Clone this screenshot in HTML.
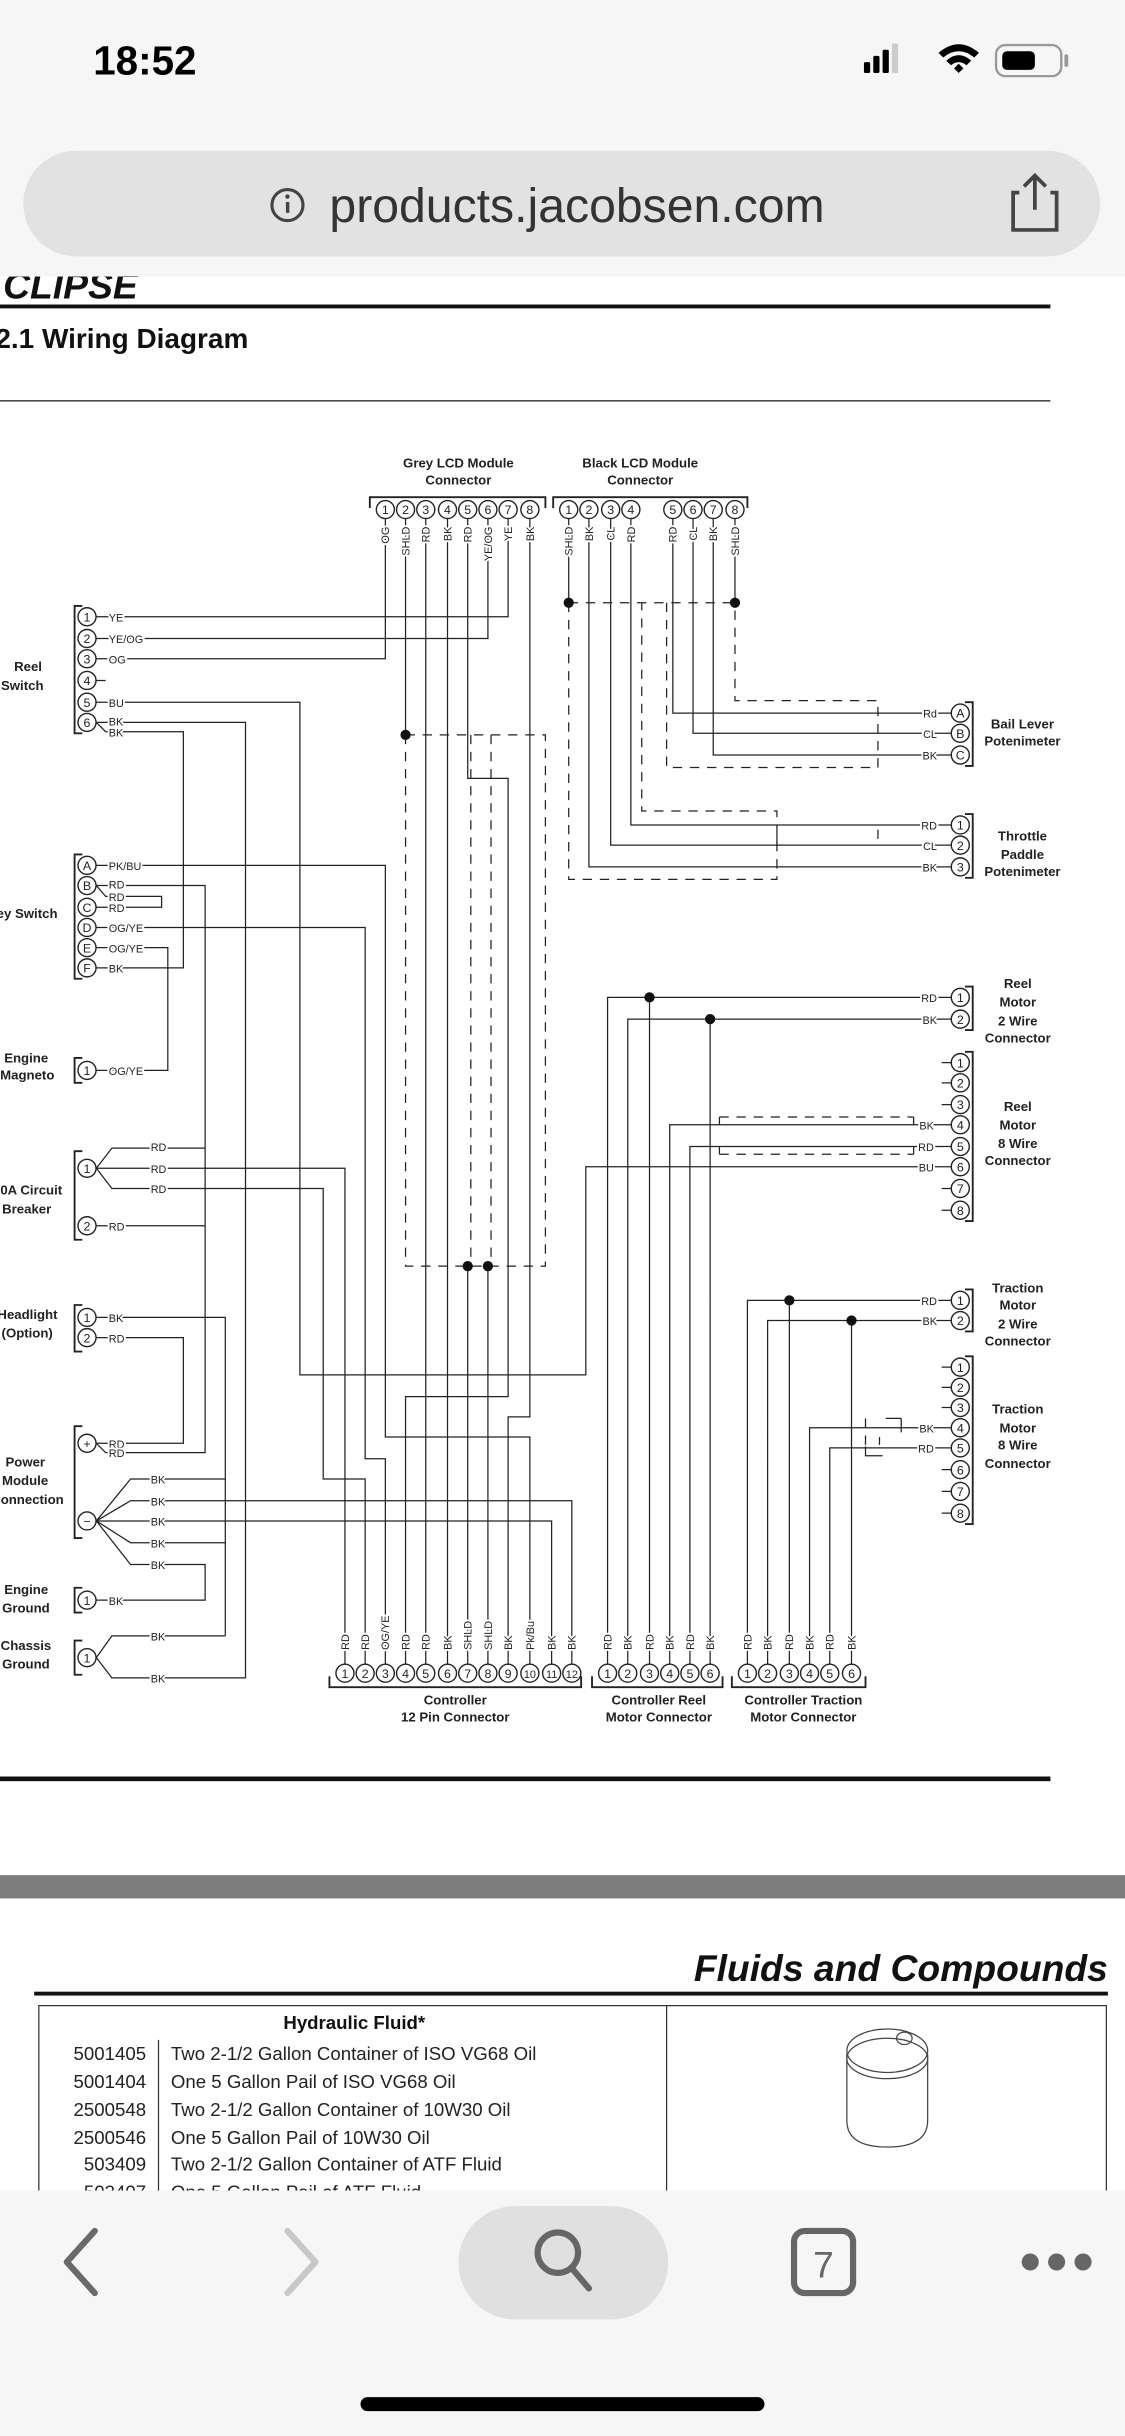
<!DOCTYPE html>
<html><head><meta charset="utf-8"><style>
html,body{margin:0;padding:0;background:#fff;width:1125px;height:2436px;overflow:hidden}
svg{display:block}
.w{stroke:#222;stroke-width:0.8;fill:none}
.d{stroke:#222;stroke-width:0.8;fill:none;stroke-dasharray:6 5}
.l{font:7px "Liberation Sans Narrow","Liberation Sans",sans-serif;fill:#222;paint-order:stroke;stroke:#fff;stroke-width:2.5px}
.p{fill:#fff;stroke:#222;stroke-width:0.9}
.n{font:8px "Liberation Sans Narrow","Liberation Sans",sans-serif;text-anchor:middle;fill:#222}
.t{font:bold 8.5px "Liberation Sans Narrow","Liberation Sans",sans-serif;fill:#222;text-anchor:middle}
.e{font:bold 8.5px "Liberation Sans Narrow","Liberation Sans",sans-serif;fill:#222;text-anchor:end}
.r{font:12px "Liberation Sans Narrow","Liberation Sans",sans-serif;fill:#222}
</style></head><body>
<svg width="1125" height="2436" viewBox="0 0 724 1568" preserveAspectRatio="none" xmlns="http://www.w3.org/2000/svg">
<rect width="724" height="1568" fill="#fff"/>
<!-- doc header -->
<text x="2" y="192" style="font:italic bold 24px 'Liberation Sans Narrow','Liberation Sans',sans-serif" fill="#111">CLIPSE</text>
<rect x="0" y="0" width="724" height="178" fill="#f6f6f6"/>
<text x="60" y="48" style="font:bold 26px 'Liberation Sans Narrow','Liberation Sans',sans-serif" fill="#000">18:52</text>
<rect x="556" y="40" width="4" height="7" rx="1" fill="#000"/><rect x="562" y="36" width="4" height="11" rx="1" fill="#000"/><rect x="568" y="32" width="4" height="15" rx="1" fill="#000"/><rect x="574" y="28" width="4" height="19" rx="1" fill="#ccc"/>
<path d="M604 34 Q617 23 630 34 L627 37 Q617 29 607 37Z M609 39 Q617 32 625 39 L622 42 Q617 38 612 42Z M614 44 L617 41 L620 44 L617 47Z" fill="#000"/>
<rect x="641" y="29" width="42" height="20" rx="6" fill="none" stroke="#999" stroke-width="1.5"/><rect x="645" y="33" width="21" height="12" rx="3" fill="#000"/><rect x="685" y="35" width="2.5" height="8" rx="1" fill="#999"/>
<rect x="15" y="97" width="693" height="68" rx="34" fill="#e2e2e2"/>
<circle cx="185" cy="132" r="10" fill="none" stroke="#444" stroke-width="2"/><rect x="184" y="130" width="2.2" height="7" fill="#444"/><circle cx="185" cy="126.5" r="1.4" fill="#444"/>
<text x="212" y="143" style="font:31px 'Liberation Sans Narrow','Liberation Sans',sans-serif" fill="#333">products.jacobsen.com</text>
<path d="M656 124 H652 V148 H680 V124 H676 M666 135 V114 M659 120 L666 113 L673 120" fill="none" stroke="#444" stroke-width="2.4"/>
<rect x="0" y="196" width="676" height="2.5" fill="#111"/>
<text x="-3" y="224" style="font:bold 18px 'Liberation Sans Narrow','Liberation Sans',sans-serif" fill="#111">2.1 Wiring Diagram</text>
<rect x="0" y="257.5" width="676" height="1" fill="#444"/>

<!-- diagram headers -->
<text class="t" x="295" y="301">Grey LCD Module</text><text class="t" x="295" y="312">Connector</text>
<text class="t" x="412" y="301">Black LCD Module</text><text class="t" x="412" y="312">Connector</text>
<path class="w" d="M238 327 V320 H351 V327 M356 327 V320 H481 V327" style="stroke-width:1.2"/>
<text class="t" x="293" y="1097">Controller</text><text class="t" x="293" y="1108">12 Pin Connector</text>
<text class="t" x="424" y="1097">Controller Reel</text><text class="t" x="424" y="1108">Motor Connector</text>
<text class="t" x="517" y="1097">Controller Traction</text><text class="t" x="517" y="1108">Motor Connector</text>
<path class="w" d="M212 1079 V1086 H374 V1079 M381 1079 V1086 H465 V1079 M471 1079 V1086 H557 V1079" style="stroke-width:1.2"/>

<!-- left labels -->
<text class="e" x="27" y="432">Reel</text><text class="e" x="28" y="444">Switch</text>
<text class="e" x="37" y="591">Key Switch</text>
<text class="e" x="31" y="684">Engine</text><text class="e" x="35" y="695">Magneto</text>
<text class="e" x="40" y="769">20A Circuit</text><text class="e" x="33" y="781">Breaker</text>
<text class="e" x="37" y="849">Headlight</text><text class="e" x="34" y="861">(Option)</text>
<text class="e" x="29" y="944">Power</text><text class="e" x="31" y="956">Module</text><text class="e" x="41" y="968">Connection</text>
<text class="e" x="31" y="1026">Engine</text><text class="e" x="32" y="1038">Ground</text>
<text class="e" x="33" y="1062">Chassis</text><text class="e" x="32" y="1074">Ground</text>
<!-- right labels -->
<text class="t" x="658" y="469">Bail Lever</text><text class="t" x="658" y="480">Potenimeter</text>
<text class="t" x="658" y="541">Throttle</text><text class="t" x="658" y="553">Paddle</text><text class="t" x="658" y="564">Potenimeter</text>
<text class="t" x="655" y="636">Reel</text><text class="t" x="655" y="648">Motor</text><text class="t" x="655" y="660">2 Wire</text><text class="t" x="655" y="671">Connector</text>
<text class="t" x="655" y="715">Reel</text><text class="t" x="655" y="727">Motor</text><text class="t" x="655" y="739">8 Wire</text><text class="t" x="655" y="750">Connector</text>
<text class="t" x="655" y="832">Traction</text><text class="t" x="655" y="843">Motor</text><text class="t" x="655" y="855">2 Wire</text><text class="t" x="655" y="866">Connector</text>
<text class="t" x="655" y="910">Traction</text><text class="t" x="655" y="922">Motor</text><text class="t" x="655" y="933">8 Wire</text><text class="t" x="655" y="945">Connector</text>

<!-- brackets -->
<path class="w" style="stroke-width:1.2" d="M53 390 H48 V472 H53 M53 550 H48 V630 H53 M53 681 H48 V697 H53 M53 741 H48 V798 H53 M53 840 H48 V870 H53 M53 918 H48 V990 H53 M53 1022 H48 V1038 H53 M53 1056 H48 V1078 H53
M621 452 H626 V493 H621 M621 524 H626 V565 H621 M621 635 H626 V663 H621 M621 677 H626 V786 H621 M621 830 H626 V857 H621 M621 873 H626 V981 H621"/>

<!-- wires -->
<path class="w" d="
M62 397 H327 V334 M62 411 H314 V334 M62 424 H248 V334 M62 438 H68
M62 452 H193 V885 H377 V751 H612
M62 465 H158 V1080 H72 L62 1067 L72 1053 H145
M62 465 L68 471 H118 V623 H62
M62 557 H248 V925 H341 V1071
M62 570 H132 V935 H68 L62 929 H118 V861 H62
M62 570 L68 577 H104 V584 H62
M62 597 H235 V939 H248 V1071
M62 610 H108 V689 H62
M62 752 L72 739 H132 M62 752 H222 V1071 M62 752 L72 765 H208 V952 H235 V1071
M62 789 H132
M62 848 H145 V1053
M62 979 L84 952 H145 M62 979 L84 966 H368 V1071 M62 979 H355 V1071 M62 979 L84 993 H145 M62 979 L84 1007 H132 V1030 H62
M261 334 V473 M274 334 V1071 M288 334 V1071
M301 334 V501 H327 V899 H261 V1071
M341 334 V912 H327 V1071
M301 815 V1071 M314 815 V1071
M366 334 V388 M473 334 V388
M379 334 V558 H612 M393 334 V544 H612 M406 334 V531 H612
M433 334 V459 H612 M446 334 V472 H612 M459 334 V486 H612
M391 1071 V642 H612 M418 642 V1071 M404 1071 V656 H612 M457 656 V1071
M431 1071 V724 H612 M444 1071 V738 H612
M481 1071 V837 H612 M508 837 V1071 M494 1071 V850 H612 M548 850 V1071
M521 1071 V919 H612 M534 1071 V932 H612
M606 684 H612 M606 697 H612 M606 711 H612 M606 765 H612 M606 779 H612
M606 880 H612 M606 893 H612 M606 906 H612 M606 946 H612 M606 960 H612 M606 974 H612
M463 719 V724 M463 738 V743 M588 719 V724 M588 738 V743 M500 537 V543 M565 534 V540
M580 913 V922 M570 913 H580 M557 931 V937 H568 M566 925 V930
"/>
<path class="d" d="M261 473 H351 V815 H261 V473 M303 473 V815 M316 473 V815
M366 388 H473 M366 388 V566 H500 V522 H413 V388 M429 388 V494 H565 V451 H473 V388
M463 719 H588 M463 743 H588 M557 913 V931"/>
<g fill="#111">
<circle cx="261" cy="473" r="3.3"/><circle cx="301" cy="815" r="3.3"/><circle cx="314" cy="815" r="3.3"/>
<circle cx="366" cy="388" r="3.3"/><circle cx="473" cy="388" r="3.3"/>
<circle cx="418" cy="642" r="3.3"/><circle cx="457" cy="656" r="3.3"/><circle cx="508" cy="837" r="3.3"/><circle cx="548" cy="850" r="3.3"/>
</g>

<!-- wire labels left -->
<g class="l">
<text x="70" y="400">YE</text><text x="70" y="414">YE/OG</text><text x="70" y="427">OG</text><text x="70" y="455">BU</text><text x="70" y="467">BK</text><text x="70" y="474">BK</text>
<text x="70" y="560">PK/BU</text><text x="70" y="572">RD</text><text x="70" y="580">RD</text><text x="70" y="587">RD</text><text x="70" y="600">OG/YE</text><text x="70" y="613">OG/YE</text><text x="70" y="626">BK</text>
<text x="70" y="692">OG/YE</text>
<text x="97" y="741">RD</text><text x="97" y="755">RD</text><text x="97" y="768">RD</text><text x="70" y="792">RD</text>
<text x="70" y="851">BK</text><text x="70" y="864">RD</text>
<text x="70" y="932">RD</text><text x="70" y="938">RD</text>
<text x="97" y="955">BK</text><text x="97" y="969">BK</text><text x="97" y="982">BK</text><text x="97" y="996">BK</text><text x="97" y="1010">BK</text>
<text x="70" y="1033">BK</text><text x="97" y="1056">BK</text><text x="97" y="1083">BK</text>
</g>
<!-- wire labels right -->
<g class="l" text-anchor="end">
<text x="603" y="462">Rd</text><text x="603" y="475">CL</text><text x="603" y="489">BK</text>
<text x="603" y="534">RD</text><text x="603" y="547">CL</text><text x="603" y="561">BK</text>
<text x="603" y="645">RD</text><text x="603" y="659">BK</text>
<text x="601" y="727">BK</text><text x="601" y="741">RD</text><text x="601" y="754">BU</text>
<text x="603" y="840">RD</text><text x="603" y="853">BK</text>
<text x="601" y="922">BK</text><text x="601" y="935">RD</text>
</g>
<!-- vertical labels top -->
<g class="l" text-anchor="end">
<text transform="translate(250.5,339) rotate(-90)">OG</text><text transform="translate(263.5,339) rotate(-90)">SHLD</text><text transform="translate(276.5,339) rotate(-90)">RD</text><text transform="translate(290.5,339) rotate(-90)">BK</text><text transform="translate(303.5,339) rotate(-90)">RD</text><text transform="translate(316.5,339) rotate(-90)">YE/OG</text><text transform="translate(329.5,339) rotate(-90)">YE</text><text transform="translate(343.5,339) rotate(-90)">BK</text>
<text transform="translate(368.5,339) rotate(-90)">SHLD</text><text transform="translate(381.5,339) rotate(-90)">BK</text><text transform="translate(395.5,339) rotate(-90)">CL</text><text transform="translate(408.5,339) rotate(-90)">RD</text><text transform="translate(435.5,339) rotate(-90)">RD</text><text transform="translate(448.5,339) rotate(-90)">CL</text><text transform="translate(461.5,339) rotate(-90)">BK</text><text transform="translate(475.5,339) rotate(-90)">SHLD</text>
</g>
<!-- vertical labels bottom -->
<g class="l">
<text transform="translate(224.5,1062) rotate(-90)">RD</text><text transform="translate(237.5,1062) rotate(-90)">RD</text><text transform="translate(250.5,1062) rotate(-90)">OG/YE</text><text transform="translate(263.5,1062) rotate(-90)">RD</text><text transform="translate(276.5,1062) rotate(-90)">RD</text><text transform="translate(290.5,1062) rotate(-90)">BK</text><text transform="translate(303.5,1062) rotate(-90)">SHLD</text><text transform="translate(316.5,1062) rotate(-90)">SHLD</text><text transform="translate(329.5,1062) rotate(-90)">BK</text><text transform="translate(343.5,1062) rotate(-90)">Pk/Bu</text><text transform="translate(357.5,1062) rotate(-90)">BK</text><text transform="translate(370.5,1062) rotate(-90)">BK</text>
<text transform="translate(393.5,1062) rotate(-90)">RD</text><text transform="translate(406.5,1062) rotate(-90)">BK</text><text transform="translate(420.5,1062) rotate(-90)">RD</text><text transform="translate(433.5,1062) rotate(-90)">BK</text><text transform="translate(446.5,1062) rotate(-90)">RD</text><text transform="translate(459.5,1062) rotate(-90)">BK</text>
<text transform="translate(483.5,1062) rotate(-90)">RD</text><text transform="translate(496.5,1062) rotate(-90)">BK</text><text transform="translate(510.5,1062) rotate(-90)">RD</text><text transform="translate(523.5,1062) rotate(-90)">BK</text><text transform="translate(536.5,1062) rotate(-90)">RD</text><text transform="translate(550.5,1062) rotate(-90)">BK</text>
</g>

<!-- pins -->
<g>
<!-- top -->
<circle class="p" cx="248" cy="328" r="5.8"/><text class="n" x="248" y="331">1</text>
<circle class="p" cx="261" cy="328" r="5.8"/><text class="n" x="261" y="331">2</text>
<circle class="p" cx="274" cy="328" r="5.8"/><text class="n" x="274" y="331">3</text>
<circle class="p" cx="288" cy="328" r="5.8"/><text class="n" x="288" y="331">4</text>
<circle class="p" cx="301" cy="328" r="5.8"/><text class="n" x="301" y="331">5</text>
<circle class="p" cx="314" cy="328" r="5.8"/><text class="n" x="314" y="331">6</text>
<circle class="p" cx="327" cy="328" r="5.8"/><text class="n" x="327" y="331">7</text>
<circle class="p" cx="341" cy="328" r="5.8"/><text class="n" x="341" y="331">8</text>
<circle class="p" cx="366" cy="328" r="5.8"/><text class="n" x="366" y="331">1</text>
<circle class="p" cx="379" cy="328" r="5.8"/><text class="n" x="379" y="331">2</text>
<circle class="p" cx="393" cy="328" r="5.8"/><text class="n" x="393" y="331">3</text>
<circle class="p" cx="406" cy="328" r="5.8"/><text class="n" x="406" y="331">4</text>
<circle class="p" cx="433" cy="328" r="5.8"/><text class="n" x="433" y="331">5</text>
<circle class="p" cx="446" cy="328" r="5.8"/><text class="n" x="446" y="331">6</text>
<circle class="p" cx="459" cy="328" r="5.8"/><text class="n" x="459" y="331">7</text>
<circle class="p" cx="473" cy="328" r="5.8"/><text class="n" x="473" y="331">8</text>
<!-- bottom -->
<circle class="p" cx="222" cy="1077" r="5.8"/><text class="n" x="222" y="1080">1</text>
<circle class="p" cx="235" cy="1077" r="5.8"/><text class="n" x="235" y="1080">2</text>
<circle class="p" cx="248" cy="1077" r="5.8"/><text class="n" x="248" y="1080">3</text>
<circle class="p" cx="261" cy="1077" r="5.8"/><text class="n" x="261" y="1080">4</text>
<circle class="p" cx="274" cy="1077" r="5.8"/><text class="n" x="274" y="1080">5</text>
<circle class="p" cx="288" cy="1077" r="5.8"/><text class="n" x="288" y="1080">6</text>
<circle class="p" cx="301" cy="1077" r="5.8"/><text class="n" x="301" y="1080">7</text>
<circle class="p" cx="314" cy="1077" r="5.8"/><text class="n" x="314" y="1080">8</text>
<circle class="p" cx="327" cy="1077" r="5.8"/><text class="n" x="327" y="1080">9</text>
<circle class="p" cx="341" cy="1077" r="5.8"/><text class="n" x="341" y="1080" style="font-size:7px">10</text>
<circle class="p" cx="355" cy="1077" r="5.8"/><text class="n" x="355" y="1080" style="font-size:7px">11</text>
<circle class="p" cx="368" cy="1077" r="5.8"/><text class="n" x="368" y="1080" style="font-size:7px">12</text>
<circle class="p" cx="391" cy="1077" r="5.8"/><text class="n" x="391" y="1080">1</text>
<circle class="p" cx="404" cy="1077" r="5.8"/><text class="n" x="404" y="1080">2</text>
<circle class="p" cx="418" cy="1077" r="5.8"/><text class="n" x="418" y="1080">3</text>
<circle class="p" cx="431" cy="1077" r="5.8"/><text class="n" x="431" y="1080">4</text>
<circle class="p" cx="444" cy="1077" r="5.8"/><text class="n" x="444" y="1080">5</text>
<circle class="p" cx="457" cy="1077" r="5.8"/><text class="n" x="457" y="1080">6</text>
<circle class="p" cx="481" cy="1077" r="5.8"/><text class="n" x="481" y="1080">1</text>
<circle class="p" cx="494" cy="1077" r="5.8"/><text class="n" x="494" y="1080">2</text>
<circle class="p" cx="508" cy="1077" r="5.8"/><text class="n" x="508" y="1080">3</text>
<circle class="p" cx="521" cy="1077" r="5.8"/><text class="n" x="521" y="1080">4</text>
<circle class="p" cx="534" cy="1077" r="5.8"/><text class="n" x="534" y="1080">5</text>
<circle class="p" cx="548" cy="1077" r="5.8"/><text class="n" x="548" y="1080">6</text>
<!-- left -->
<circle class="p" cx="56" cy="397" r="5.8"/><text class="n" x="56" y="400">1</text>
<circle class="p" cx="56" cy="411" r="5.8"/><text class="n" x="56" y="414">2</text>
<circle class="p" cx="56" cy="424" r="5.8"/><text class="n" x="56" y="427">3</text>
<circle class="p" cx="56" cy="438" r="5.8"/><text class="n" x="56" y="441">4</text>
<circle class="p" cx="56" cy="452" r="5.8"/><text class="n" x="56" y="455">5</text>
<circle class="p" cx="56" cy="465" r="5.8"/><text class="n" x="56" y="468">6</text>
<circle class="p" cx="56" cy="557" r="5.8"/><text class="n" x="56" y="560">A</text>
<circle class="p" cx="56" cy="570" r="5.8"/><text class="n" x="56" y="573">B</text>
<circle class="p" cx="56" cy="584" r="5.8"/><text class="n" x="56" y="587">C</text>
<circle class="p" cx="56" cy="597" r="5.8"/><text class="n" x="56" y="600">D</text>
<circle class="p" cx="56" cy="610" r="5.8"/><text class="n" x="56" y="613">E</text>
<circle class="p" cx="56" cy="623" r="5.8"/><text class="n" x="56" y="626">F</text>
<circle class="p" cx="56" cy="689" r="5.8"/><text class="n" x="56" y="692">1</text>
<circle class="p" cx="56" cy="752" r="5.8"/><text class="n" x="56" y="755">1</text>
<circle class="p" cx="56" cy="789" r="5.8"/><text class="n" x="56" y="792">2</text>
<circle class="p" cx="56" cy="848" r="5.8"/><text class="n" x="56" y="851">1</text>
<circle class="p" cx="56" cy="861" r="5.8"/><text class="n" x="56" y="864">2</text>
<circle class="p" cx="56" cy="929" r="5.8"/><text class="n" x="56" y="932">+</text>
<circle class="p" cx="56" cy="979" r="5.8"/><text class="n" x="56" y="982">−</text>
<circle class="p" cx="56" cy="1030" r="5.8"/><text class="n" x="56" y="1033">1</text>
<circle class="p" cx="56" cy="1067" r="5.8"/><text class="n" x="56" y="1070">1</text>
<!-- right -->
<circle class="p" cx="618" cy="459" r="5.8"/><text class="n" x="618" y="462">A</text>
<circle class="p" cx="618" cy="472" r="5.8"/><text class="n" x="618" y="475">B</text>
<circle class="p" cx="618" cy="486" r="5.8"/><text class="n" x="618" y="489">C</text>
<circle class="p" cx="618" cy="531" r="5.8"/><text class="n" x="618" y="534">1</text>
<circle class="p" cx="618" cy="544" r="5.8"/><text class="n" x="618" y="547">2</text>
<circle class="p" cx="618" cy="558" r="5.8"/><text class="n" x="618" y="561">3</text>
<circle class="p" cx="618" cy="642" r="5.8"/><text class="n" x="618" y="645">1</text>
<circle class="p" cx="618" cy="656" r="5.8"/><text class="n" x="618" y="659">2</text>
<circle class="p" cx="618" cy="684" r="5.8"/><text class="n" x="618" y="687">1</text>
<circle class="p" cx="618" cy="697" r="5.8"/><text class="n" x="618" y="700">2</text>
<circle class="p" cx="618" cy="711" r="5.8"/><text class="n" x="618" y="714">3</text>
<circle class="p" cx="618" cy="724" r="5.8"/><text class="n" x="618" y="727">4</text>
<circle class="p" cx="618" cy="738" r="5.8"/><text class="n" x="618" y="741">5</text>
<circle class="p" cx="618" cy="751" r="5.8"/><text class="n" x="618" y="754">6</text>
<circle class="p" cx="618" cy="765" r="5.8"/><text class="n" x="618" y="768">7</text>
<circle class="p" cx="618" cy="779" r="5.8"/><text class="n" x="618" y="782">8</text>
<circle class="p" cx="618" cy="837" r="5.8"/><text class="n" x="618" y="840">1</text>
<circle class="p" cx="618" cy="850" r="5.8"/><text class="n" x="618" y="853">2</text>
<circle class="p" cx="618" cy="880" r="5.8"/><text class="n" x="618" y="883">1</text>
<circle class="p" cx="618" cy="893" r="5.8"/><text class="n" x="618" y="896">2</text>
<circle class="p" cx="618" cy="906" r="5.8"/><text class="n" x="618" y="909">3</text>
<circle class="p" cx="618" cy="919" r="5.8"/><text class="n" x="618" y="922">4</text>
<circle class="p" cx="618" cy="932" r="5.8"/><text class="n" x="618" y="935">5</text>
<circle class="p" cx="618" cy="946" r="5.8"/><text class="n" x="618" y="949">6</text>
<circle class="p" cx="618" cy="960" r="5.8"/><text class="n" x="618" y="963">7</text>
<circle class="p" cx="618" cy="974" r="5.8"/><text class="n" x="618" y="977">8</text>
</g>

<!-- bottom of doc -->
<rect x="0" y="1143.5" width="676" height="3" fill="#111"/>
<rect x="0" y="1207" width="724" height="15" fill="#7d7d7d"/>
<text x="713" y="1275" text-anchor="end" style="font:italic bold 24px 'Liberation Sans Narrow','Liberation Sans',sans-serif" fill="#111">Fluids and Compounds</text>
<rect x="22" y="1282" width="691" height="2.5" fill="#111"/>
<path d="M25 1410 V1291 H712 V1410 M429 1291 V1410 M102 1313 V1410" fill="none" stroke="#333" stroke-width="0.8"/>
<text x="228" y="1306" text-anchor="middle" style="font:bold 12px 'Liberation Sans Narrow','Liberation Sans',sans-serif" fill="#111">Hydraulic Fluid*</text>
<g class="r">
<text x="94" y="1326" text-anchor="end">5001405</text><text x="110" y="1326">Two 2-1/2 Gallon Container of ISO VG68 Oil</text>
<text x="94" y="1344" text-anchor="end">5001404</text><text x="110" y="1344">One 5 Gallon Pail of ISO VG68 Oil</text>
<text x="94" y="1362" text-anchor="end">2500548</text><text x="110" y="1362">Two 2-1/2 Gallon Container of 10W30 Oil</text>
<text x="94" y="1380" text-anchor="end">2500546</text><text x="110" y="1380">One 5 Gallon Pail of 10W30 Oil</text>
<text x="94" y="1397" text-anchor="end">503409</text><text x="110" y="1397">Two 2-1/2 Gallon Container of ATF Fluid</text>
<text x="94" y="1415" text-anchor="end">503407</text><text x="110" y="1415">One 5 Gallon Pail of ATF Fluid</text>
</g>
<path d="M545 1322 V1365 Q545 1382 571 1382 Q597 1382 597 1365 V1322" fill="none" stroke="#444" stroke-width="0.8"/>
<ellipse cx="571" cy="1320" rx="26" ry="14" fill="#fff" stroke="#444" stroke-width="0.8"/>
<ellipse cx="571" cy="1325" rx="26" ry="13" fill="none" stroke="#444" stroke-width="0.8"/>
<ellipse cx="582" cy="1312" rx="5" ry="4" fill="none" stroke="#444" stroke-width="0.8"/>

<!-- toolbar -->
<rect x="0" y="1410" width="724" height="158" fill="#f6f6f6"/>
<path d="M61 1436 L43 1456 L61 1476" fill="none" stroke="#6a6a6a" stroke-width="4" stroke-linecap="round" stroke-linejoin="round"/>
<path d="M185 1436 L203 1456 L185 1476" fill="none" stroke="#c8c8c8" stroke-width="4" stroke-linecap="round" stroke-linejoin="round"/>
<rect x="295" y="1420" width="135" height="73" rx="36.5" fill="#e0e0e0"/>
<circle cx="359" cy="1450" r="13" fill="none" stroke="#666" stroke-width="4"/>
<path d="M368 1460 L379 1473" stroke="#666" stroke-width="4" stroke-linecap="round"/>
<rect x="511" y="1436" width="38" height="40" rx="7" fill="none" stroke="#666" stroke-width="4"/>
<text x="530" y="1466" text-anchor="middle" style="font:24px 'Liberation Sans Narrow','Liberation Sans',sans-serif" fill="#666">7</text>
<circle cx="663" cy="1456" r="5.5" fill="#666"/><circle cx="680" cy="1456" r="5.5" fill="#666"/><circle cx="697" cy="1456" r="5.5" fill="#666"/>
<rect x="232" y="1543" width="260" height="9" rx="4.5" fill="#000"/>
</svg>
</body></html>
